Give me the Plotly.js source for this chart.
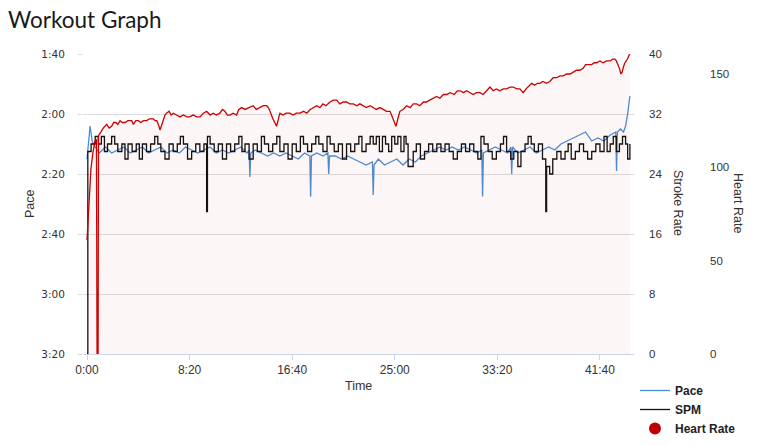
<!DOCTYPE html>
<html>
<head>
<meta charset="utf-8">
<script src="https://cdn.plot.ly/plotly-3.0.1.min.js"></script>
<style>html,body{margin:0;padding:0;background:#fff;}#chart{width:763px;height:446px;}</style>
</head>
<body>
<div id="chart"></div>
<script>
// ---- Data (seconds) ----
const xTickVals = [0, 500, 1000, 1500, 2000, 2500];
const xTickText = ["0:00", "8:20", "16:40", "25:00", "33:20", "41:40"];
const paceTickVals = [100, 120, 140, 160, 180, 200];
const paceTickText = ["1:40", "2:00", "2:20", "2:40", "3:00", "3:20"];
const spmTickVals = [0, 8, 16, 24, 32, 40];
const hrTickVals = [0, 50, 100, 150];

// Pace (seconds per 500m)
const paceT = [0,8,15,25,40,60,90,120,150,180,
  210,240,270,300,330,360,390,420,450,480,
  510,540,570,600,630,660,690,720,750,780,
  790,794,798,820,850,880,910,940,970,1000,
  1030,1060,1086,1090,1094,1120,1150,1174,1178,1182,
  1210,1240,1270,1300,1330,1360,1391,1395,1399,1420,
  1450,1480,1510,1540,1570,1600,1630,1660,1690,1720,
  1750,1780,1810,1840,1870,1900,1924,1928,1932,1960,
  1990,2020,2050,2066,2070,2074,2100,2130,2160,2190,
  2220,2250,2280,2310,2340,2370,2400,2430,2460,2490,
  2520,2550,2577,2581,2585,2600,2615,2625,2635,2646];
const pace = [135,128,124,129,131,133,131,133,132,131,
  133,132,131,133,132,131,133,132,133,131,
  132,133,132,131,133,132,133,132,131,133,
  132,141,133,132,133,134,133,134,133,134,
  135,133,134,147.6,134,133,134,133,140,134,
  134,135,134,135,136,137,136,147,137,135,
  137,136,135,137,135,136,134,133,132,131,
  132,131,132,131,132,133,132,147.5,133,132,
  131,132,133,131,140,131,133,132,131,133,
  132,131,132,130,129,128,127,126,129,128,
  129,127,126,139,126,125,126,124,120,114];

// Strokes per minute
const spmT = [0,4,20,40,55,70,85,100,120,135,
  150,170,185,200,220,240,255,270,290,310,
  330,345,360,380,400,420,440,455,470,490,
  510,530,550,570,583,587,600,620,640,660,
  680,700,720,740,755,770,790,810,830,850,
  865,885,905,925,940,960,980,1000,1020,1040,
  1055,1075,1095,1115,1130,1150,1170,1185,1205,1225,
  1245,1265,1285,1305,1325,1340,1360,1380,1395,1410,
  1425,1440,1455,1470,1485,1500,1515,1530,1545,1555,
  1565,1590,1605,1625,1645,1665,1685,1705,1725,1745,
  1765,1785,1805,1825,1845,1865,1885,1905,1920,1935,
  1955,1975,1995,2015,2030,2045,2065,2080,2100,2115,
  2135,2150,2165,2180,2200,2220,2236,2240,2255,2270,
  2290,2310,2330,2345,2360,2380,2400,2420,2440,2460,
  2480,2500,2520,2535,2550,2565,2580,2595,2610,2625,
  2635,2646];
const spm = [0,27,28,29,28,29,27,28,29,28,
  27,28,26,28,27,28,26,28,27,28,
  29,28,27,26,28,27,28,29,28,26,
  27,28,27,28,19,29,28,27,28,26,
  28,27,28,29,27,28,26,28,27,29,
  28,27,28,29,27,28,26,28,27,29,
  28,27,28,29,28,27,29,28,27,28,
  26,28,27,28,29,27,28,29,28,29,
  27,29,28,27,29,28,29,27,29,28,
  25,27,28,26,27,28,27,28,27,28,
  27,26,27,28,27,28,27,26,29,28,
  27,26,27,28,29,27,26,27,25,27,
  28,29,28,27,28,26,19,25,24,26,
  27,26,27,28,26,27,28,27,26,27,
  28,27,29,27,28,29,27,28,29,28,
  26,28];

// Heart rate (bpm)
const hrT = [0,10,19,29,39,46,49,54,56,68,79,
  96,108,120,130,141,150,161,172,185,200,218,226,238,250,262,275,291,305,323,332,
  340,348,356,364,372,380,388,400,410,421,436,453,470,486,500,518,535,551,567,583,
  600,615,630,648,660,672,685,697,712,729,740,754,770,794,810,825,843,860,876,884,
  892,906,924,932,940,955,970,989,1005,1020,1038,1055,1071,1088,1103,1120,1135,1150,1165,1184,
  1200,1217,1232,1249,1265,1280,1298,1315,1330,1346,1362,1380,1395,1410,1428,1444,1460,1477,1491,1506,
  1515,1525,1540,1558,1575,1590,1607,1622,1640,1655,1670,1688,1704,1720,1737,1753,1770,1790,1805,1818,
  1835,1850,1866,1882,1898,1915,1931,1948,1964,1980,1995,2012,2029,2045,2062,2077,2095,2110,2126,2140,
  2155,2167,2182,2195,2207,2222,2240,2256,2272,2289,2305,2321,2338,2355,2370,2385,2402,2418,2430,2443,
  2460,2472,2484,2500,2515,2532,2550,2562,2573,2580,2588,2595,2602,2608,2615,2622,2634,2646];
const hr = [61,82,99,108,114,115,0,0,117,119,121,
  123,121,122,124,124,123,125,124,124,125,125,123,125,125,124,125,125,126,126,125,
  125,123,120,123,125,128,129,130,128,129,128,127,128,127,127,128,127,127,129,130,
  128,129,128,129,131,130,128,128,129,128,131,132,131,132,133,131,132,133,133,132,
  130,126,122,126,129,128,129,129,128,129,129,130,129,131,132,133,132,134,133,135,
  136,136,134,135,135,134,134,133,134,133,132,133,132,131,132,131,130,130,126,122,
  126,130,131,133,132,134,134,133,135,135,136,137,138,137,139,139,140,139,141,141,
  140,141,140,139,140,140,139,141,143,141,142,141,142,142,143,143,142,142,140,142,
  144,145,144,145,145,146,145,146,148,148,149,149,150,150,151,152,152,153,155,155,
  155,156,156,157,156,157,157,158,158,157,155,153,150,151,154,156,158,161];

// ---- Layout geometry ----
const W = 763, H = 446;
const ML = 83, MR = 20, MT = 54, MB = 92;
const PW = W - ML - MR;          // paper width (px)
const PLOT_RIGHT = 634;          // right edge of main plot (px)
const dom = (PLOT_RIGHT - ML) / PW;
const px = v => (v - ML) / PW;
const py = v => (H - MB - v) / (H - MT - MB);

const tickFontL = {family: "DejaVu Sans", size: 10.5, color: "#333"};
const tickFontR = {family: "Liberation Sans", size: 11.5, color: "#333"};
const titleFont = {family: "Liberation Sans", size: 12.5, color: "#333"};

const traces = [
  {x: paceT, y: pace, name: "Pace", type: "scatter", mode: "lines",
   line: {color: "#4a8fd4", width: 1.3}, xaxis: "x", yaxis: "y"},
  {x: spmT, y: spm, name: "SPM", type: "scatter", mode: "lines",
   line: {color: "#111111", width: 1.3, shape: "hv"}, xaxis: "x", yaxis: "y2"},
  {x: hrT, y: hr, name: "Heart Rate", type: "scatter", mode: "lines",
   line: {color: "#cc0000", width: 1.3}, fill: "tozeroy", fillcolor: "rgba(204,0,0,0.035)",
   xaxis: "x", yaxis: "y3", showlegend: false},
  {x: [null], y: [null], name: "Heart Rate", type: "scatter", mode: "markers",
   marker: {color: "#c00000", size: 12}, xaxis: "x", yaxis: "y3"}
];

const layout = {
  width: W, height: H,
  margin: {l: ML, r: MR, t: MT, b: MB, pad: 0, autoexpand: false},
  paper_bgcolor: "#ffffff", plot_bgcolor: "rgba(0,0,0,0)",
  title: {text: "Workout Graph", font: {family: "Lato", size: 22.5, color: "#1a1a1a"},
          x: 8 / W, xanchor: "left", xref: "container", y: 1 - 20 / H, yanchor: "middle", yref: "container"},
  showlegend: true,
  legend: {x: px(635), y: py(376), xanchor: "left", yanchor: "top", bgcolor: "rgba(0,0,0,0)",
           font: {family: "Liberation Sans", size: 12, color: "#222", weight: "bold"},
           tracegroupgap: 0, itemwidth: 30},
  xaxis: {domain: [0, dom], range: [-19.5, 2666], tickvals: xTickVals, ticktext: xTickText,
          showgrid: false, zeroline: false, showline: true, linecolor: "#ccd6eb", linewidth: 1,
          ticks: "outside", ticklen: 5, tickcolor: "#ccd6eb", tickfont: {family: "Liberation Sans", size: 12, color: "#333"}},
  yaxis: {range: [200, 100], tickvals: paceTickVals, ticktext: paceTickText,
          showgrid: true, gridcolor: "#dcdcdc", zeroline: false, showline: false,
          ticks: "outside", ticklen: 4, tickcolor: "#dcdcdc", ticklabelstandoff: 11, tickfont: tickFontL},
  yaxis2: {overlaying: "y", side: "right", anchor: "x", range: [0, 40], tickvals: spmTickVals,
           showgrid: false, zeroline: false, showline: false, ticks: "", ticklabelstandoff: 14, tickfont: tickFontR},
  yaxis3: {overlaying: "y", side: "right", anchor: "free", position: px(706), range: [0, 160.7], tickvals: hrTickVals,
           showgrid: false, zeroline: false, showline: false, ticks: "", ticklabelstandoff: 3, tickfont: tickFontR},
  annotations: [
    {text: "Pace", xref: "paper", yref: "paper", x: px(30), y: 0.5, textangle: -90, showarrow: false,
     xanchor: "center", yanchor: "middle", font: titleFont},
    {text: "Time", xref: "paper", yref: "paper", x: px(358.5), y: py(386), showarrow: false,
     xanchor: "center", yanchor: "middle", font: titleFont},
    {text: "Stroke Rate", xref: "paper", yref: "paper", x: px(678), y: py(203), textangle: 90, showarrow: false,
     xanchor: "center", yanchor: "middle", font: titleFont},
    {text: "Heart Rate", xref: "paper", yref: "paper", x: px(738), y: py(203), textangle: 90, showarrow: false,
     xanchor: "center", yanchor: "middle", font: titleFont}
  ]
};

Plotly.newPlot("chart", traces, layout, {staticPlot: true, displayModeBar: false});
</script>
</body>
</html>
